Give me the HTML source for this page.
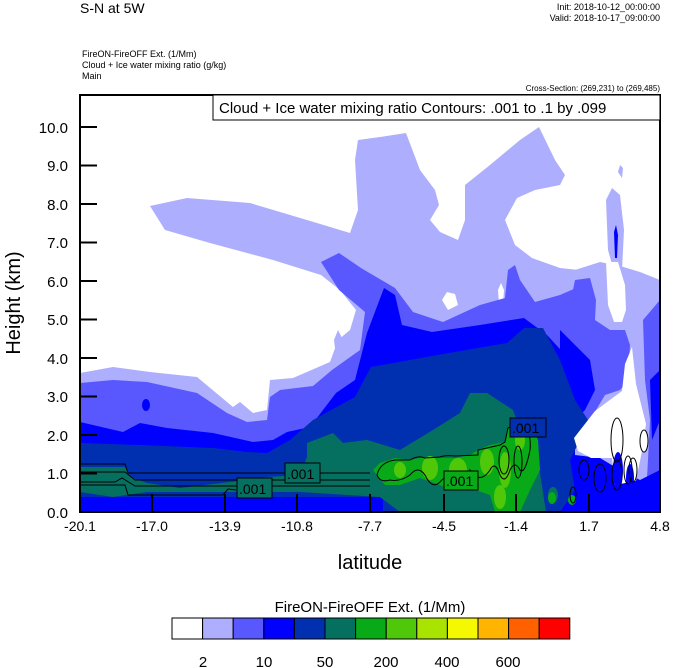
<!DOCTYPE html>
<html><head><meta charset="utf-8"><style>
body{margin:0;background:#fff;}
svg{display:block;font-family:"Liberation Sans",sans-serif;}
</style></head><body>
<svg width="674" height="668" viewBox="0 0 674 668" xmlns="http://www.w3.org/2000/svg">
<text x="80" y="13" font-size="14">S-N at 5W</text>
<text x="660" y="10" font-size="9" text-anchor="end">Init: 2018-10-12_00:00:00</text>
<text x="660" y="21" font-size="9" text-anchor="end">Valid: 2018-10-17_09:00:00</text>
<text x="82" y="57" font-size="9">FireON-FireOFF Ext.   (1/Mm)</text>
<text x="82" y="68" font-size="9">Cloud + Ice water mixing ratio   (g/kg)</text>
<text x="82" y="79" font-size="9">Main</text>
<text x="660" y="91" font-size="8" text-anchor="end">Cross-Section: (269,231) to (269,485)</text>
<defs><clipPath id="c"><rect x="80" y="95" width="580" height="417"/></clipPath></defs>
<g clip-path="url(#c)">
<rect x="80" y="95" width="580" height="417" fill="#fff"/>
<polygon fill="#aeaefe" points="80,373 113,367 150,372 197,377 233,407 240,402 253,413 267,410 270,380 293,378 330,362 338,340 350,330 356,310 340,290 321,275 273,260 210,243 165,230 150,206 187,198 250,203 317,223 350,233 358,210 355,160 358,140 380,137 406,133 420,170 435,190 439,205 430,220 440,232 458,240 465,220 465,185 490,165 520,140 539,127 555,160 565,175 560,185 535,190 517,198 505,220 515,245 532,258 560,268 598,272 620,280 636,282 645,290 660,300 660,512 80,512"/>
<polygon fill="#aeaefe" points="606,200 612,188 620,195 624,230 622,270 615,275 608,250"/>
<polygon fill="#aeaefe" points="618,172 620,165 623,168 622,178"/>
<polygon fill="#aeaefe" points="334,340 338,330 342,338 345,362 337,365"/>
<polygon fill="#fff" points="442,300 447,292 455,294 458,305 448,310"/>
<polygon fill="#fff" points="498,290 501,283 504,290 503,305 499,304"/>
<polygon fill="#5858fe" points="80,383 113,380 147,382 197,393 227,413 247,422 267,420 270,397 280,390 313,386 332,370 360,350 365,312 339,290 321,262 339,253 361,268 395,288 413,312 443,322 480,305 505,298 508,270 515,265 520,280 535,302 560,295 576,288 591,278 598,312 628,308 643,328 655,360 660,370 660,512 80,512"/>
<polygon fill="#0000fe" points="614,232 616,225 618,235 617,258 615,258"/>
<polygon fill="#0000fe" points="80,422 123,432 140,423 167,428 213,433 253,442 273,440 287,432 310,427 336,393 355,380 367,333 384,288 395,295 402,325 432,332 480,325 524,318 547,335 570,360 585,380 598,400 630,390 650,400 660,420 660,512 80,512"/>
<ellipse cx="146" cy="405" rx="4" ry="6" fill="#0000fe"/>
<polygon fill="#0030b0" points="80,443 140,445 213,448 247,452 267,453 290,440 313,420 355,397 371,367 410,360 449,353 507,343 524,328 543,328 561,362 566,397 574,430 566,463 574,512 383,512 383,497 80,497"/>
<polygon fill="#aeaefe" points="575,270 600,262 620,266 640,272 660,280 660,512 575,512"/>
<polygon fill="#fff" points="606,262 618,262 625,285 626,310 622,322 614,322 608,305"/>
<polygon fill="#5858fe" points="560,300 573,290 575,280 590,278 596,300 595,320 610,330 625,330 630,345 628,380 620,390 605,395 590,420 575,430 568,450 560,460"/>
<polygon fill="#5858fe" points="643,320 660,300 660,512 645,512 648,460 650,420 645,380"/>
<polygon fill="#0000fe" points="560,330 575,345 590,360 595,390 585,410 570,425 565,470 575,512 560,512"/>
<polygon fill="#0000fe" points="575,455 600,458 620,470 640,480 660,470 660,512 575,512"/>
<polygon fill="#0000fe" points="650,380 660,370 660,420 652,440"/>
<polygon fill="#0030b0" points="560,360 575,400 588,420 580,440 570,460 575,490 560,512"/>
<polygon fill="#fff" points="632,347 636,384 646,424 642,451 636,481 615,485 612,458 591,458 578,451 574,438 595,411 622,391 625,364"/>
<ellipse cx="644" cy="441" rx="4" ry="11" fill="#fff"/>
<ellipse cx="618" cy="470" rx="5" ry="18" fill="#0000fe"/>
<ellipse cx="630" cy="478" rx="4" ry="14" fill="#0000fe"/>
<ellipse cx="598" cy="485" rx="8" ry="18" fill="#0000fe"/>
<polygon fill="#067060" points="80,467 125,467 130,477 147,483 180,488 230,482 267,477 300,475 307,457 307,443 333,433 343,443 367,440 400,450 433,430 460,413 470,393 487,393 513,410 520,430 533,447 540,473 546,512 400,512 380,497 300,492 230,492 147,492 113,497 80,492"/>
<ellipse cx="553" cy="495" rx="5" ry="8" fill="#067060"/>
<polygon fill="#08aa18" points="373,470 380,463 395,458 410,460 425,457 440,458 455,458 470,455 478,450 490,445 500,443 505,442 508,428 515,420 530,422 538,440 540,470 530,490 520,512 495,512 490,495 470,488 450,490 440,485 420,478 400,485 385,485"/>
<ellipse cx="552" cy="498" rx="4" ry="6" fill="#08aa18"/>
<ellipse cx="572" cy="500" rx="4" ry="5" fill="#08aa18"/>
<ellipse cx="430" cy="468" rx="8" ry="12" fill="#50c80a"/>
<ellipse cx="458" cy="470" rx="9" ry="12" fill="#50c80a"/>
<ellipse cx="487" cy="462" rx="7" ry="13" fill="#50c80a"/>
<ellipse cx="505" cy="470" rx="6" ry="18" fill="#50c80a"/>
<ellipse cx="520" cy="440" rx="5" ry="10" fill="#50c80a"/>
<ellipse cx="500" cy="497" rx="6" ry="12" fill="#50c80a"/>
<ellipse cx="400" cy="470" rx="6" ry="8" fill="#50c80a"/>
<g fill="none" stroke="#000" stroke-width="1">
<polyline points="80,464 125,464 128,473 370,473"/>
<polyline points="80,472 125,472 135,480 370,480"/>
<polyline points="80,482 115,482 122,478 135,486 243,486 250,480 260,486 370,486"/>
<polyline points="80,485 125,485 128,495 223,495 228,489 236,490"/>
<path d="M377,475 Q380,462 395,460 L410,460 Q418,455 425,458 L440,457 Q445,455 455,456 L478,455 L478,450 L500,445 L505,442 L508,428 L520,422 Q532,430 530,450 Q525,475 520,470 Q515,460 510,470 Q505,485 500,475 Q495,460 490,470 Q480,485 470,470 Q465,490 458,485 Q450,470 440,482 Q432,490 425,475 Q418,465 410,475 Q400,482 390,480 Q380,483 377,475z"/>
<ellipse cx="504" cy="460" rx="5" ry="14"/>
<ellipse cx="518" cy="462" rx="4" ry="16"/>
<ellipse cx="617" cy="440" rx="6" ry="22"/>
<ellipse cx="617" cy="475" rx="5" ry="15"/>
<ellipse cx="628" cy="470" rx="4" ry="14"/>
<ellipse cx="633" cy="470" rx="4" ry="12"/>
<ellipse cx="600" cy="478" rx="6" ry="14"/>
<ellipse cx="584" cy="470" rx="5" ry="10"/>
<ellipse cx="573" cy="495" rx="3" ry="8"/>
<ellipse cx="644" cy="441" rx="4" ry="11"/>
</g>
<g font-size="14" stroke="#000" stroke-width="1">
<rect x="285" y="463" width="35" height="20" fill="#067060"/>
<rect x="237" y="478" width="35" height="20" fill="#067060"/>
<rect x="444" y="471" width="34" height="19" fill="#08aa18"/>
<rect x="510" y="418" width="36" height="19" fill="#0030b0"/>
</g>
<g font-size="14" fill="#000">
<text x="287" y="479">.001</text>
<text x="239" y="494">.001</text>
<text x="446" y="486">.001</text>
<text x="512" y="433">.001</text>
</g>
</g>
<rect x="80" y="95" width="580" height="417" fill="none" stroke="#000" stroke-width="2"/>
<rect x="213" y="95" width="447" height="25" fill="#fff" stroke="#000" stroke-width="1"/>
<text x="219" y="113" font-size="15">Cloud + Ice water mixing ratio Contours: .001 to .1 by .099</text>
<g stroke="#000" stroke-width="2">
<line x1="80" y1="127" x2="97" y2="127"/><line x1="80" y1="165.5" x2="97" y2="165.5"/><line x1="80" y1="204" x2="97" y2="204"/><line x1="80" y1="242.5" x2="97" y2="242.5"/><line x1="80" y1="281" x2="97" y2="281"/><line x1="80" y1="319.5" x2="97" y2="319.5"/><line x1="80" y1="358" x2="97" y2="358"/><line x1="80" y1="396.5" x2="97" y2="396.5"/><line x1="80" y1="435" x2="97" y2="435"/><line x1="80" y1="473.5" x2="97" y2="473.5"/>
<line x1="152" y1="512" x2="152" y2="494"/><line x1="225" y1="512" x2="225" y2="494"/><line x1="297" y1="512" x2="297" y2="494"/><line x1="370" y1="512" x2="370" y2="494"/><line x1="444" y1="512" x2="444" y2="494"/><line x1="516" y1="512" x2="516" y2="494"/><line x1="589" y1="512" x2="589" y2="494"/>
</g>
<g font-size="15" text-anchor="end">
<text x="68" y="133">10.0</text><text x="68" y="171">9.0</text><text x="68" y="210">8.0</text><text x="68" y="248">7.0</text><text x="68" y="287">6.0</text><text x="68" y="325">5.0</text><text x="68" y="364">4.0</text><text x="68" y="402">3.0</text><text x="68" y="441">2.0</text><text x="68" y="479">1.0</text><text x="68" y="518">0.0</text>
</g>
<g font-size="14" text-anchor="middle">
<text x="80" y="531">-20.1</text><text x="152" y="531">-17.0</text><text x="225" y="531">-13.9</text><text x="297" y="531">-10.8</text><text x="370" y="531">-7.7</text><text x="444" y="531">-4.5</text><text x="516" y="531">-1.4</text><text x="589" y="531">1.7</text><text x="660" y="531">4.8</text>
</g>
<text x="370" y="569" font-size="20" text-anchor="middle">latitude</text>
<text transform="translate(20,303) rotate(-90)" font-size="20" text-anchor="middle">Height (km)</text>
<text x="370" y="612" font-size="15" text-anchor="middle">FireON-FireOFF Ext.  (1/Mm)</text>
<g stroke="#000" stroke-width="1">
<rect x="172" y="618" width="30.6" height="21" fill="#fff"/>
<rect x="202.6" y="618" width="30.6" height="21" fill="#aeaefe"/>
<rect x="233.2" y="618" width="30.6" height="21" fill="#5858fe"/>
<rect x="263.8" y="618" width="30.6" height="21" fill="#0000fe"/>
<rect x="294.4" y="618" width="30.6" height="21" fill="#0030b0"/>
<rect x="325" y="618" width="30.6" height="21" fill="#067060"/>
<rect x="355.6" y="618" width="30.6" height="21" fill="#08aa18"/>
<rect x="386.2" y="618" width="30.6" height="21" fill="#50c80a"/>
<rect x="416.8" y="618" width="30.6" height="21" fill="#a8e400"/>
<rect x="447.4" y="618" width="30.6" height="21" fill="#f4f800"/>
<rect x="478" y="618" width="30.6" height="21" fill="#ffb400"/>
<rect x="508.6" y="618" width="30.6" height="21" fill="#ff6000"/>
<rect x="539.2" y="618" width="30.6" height="21" fill="#ff0000"/>
</g>
<g font-size="15" text-anchor="middle">
<text x="203" y="667">2</text><text x="264" y="667">10</text><text x="325" y="667">50</text><text x="386" y="667">200</text><text x="447" y="667">400</text><text x="508" y="667">600</text>
</g>
</svg>
</body></html>
